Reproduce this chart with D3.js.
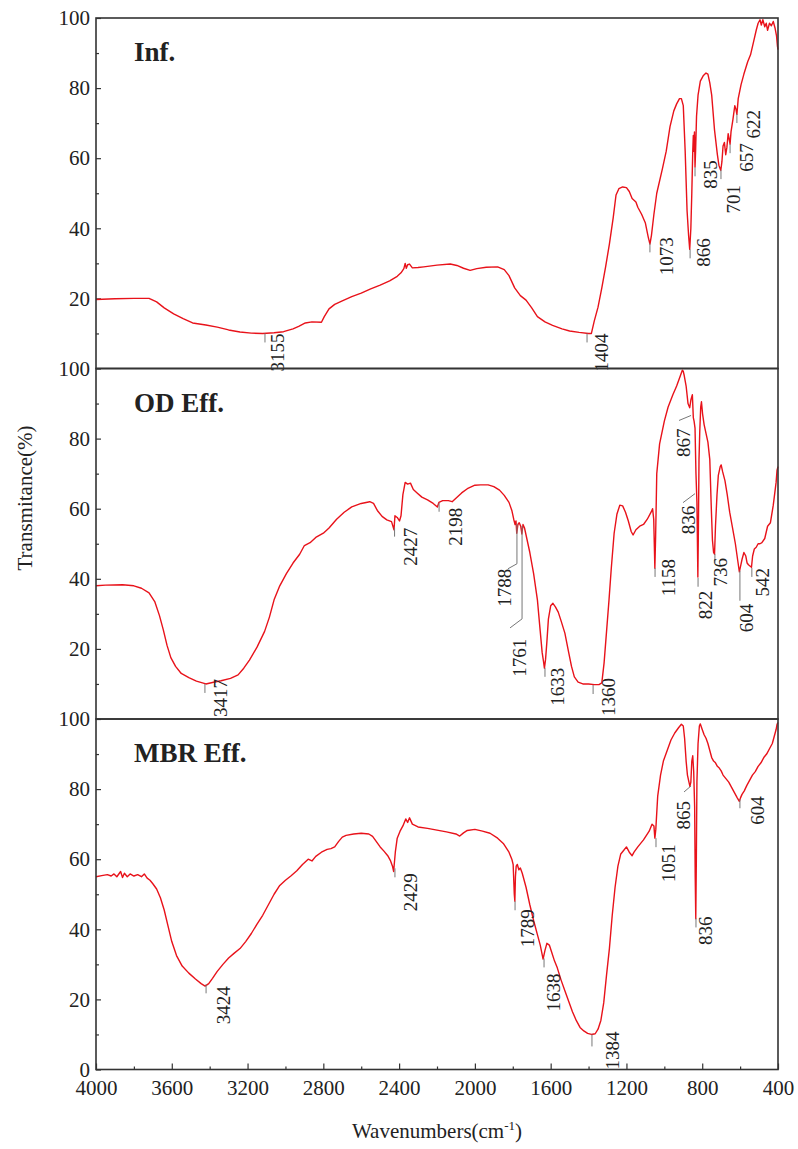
<!DOCTYPE html>
<html>
<head>
<meta charset="utf-8">
<script src="https://cdn.jsdelivr.net/npm/d3@7"></script>
<style>
  body { margin: 0; background: #fff; }
  text { font-family: "Liberation Serif", "DejaVu Serif", serif; fill: #222; }
</style>
</head>
<body>
<div id="chart"></div>
<script>
// ---- data ----
const panelNames = ["Inf.", "OD Eff.", "MBR Eff."];
const xMajorTicks = [4000, 3600, 3200, 2800, 2400, 2000, 1600, 1200, 800, 400];
const xMinorTicks = [3800, 3400, 3000, 2600, 2200, 1800, 1400, 1000, 600];
const yMajorTicks = [20, 40, 60, 80, 100];
const yMinorTicks = [10, 30, 50, 70, 90];

// [wavenumber, transmittance %]
const infSpectrum = [
  [4000, 19.7], [3900, 19.9], [3800, 20.0], [3720, 20.0], [3680, 19.0], [3640, 17.3], [3590, 15.6],
  [3540, 14.2], [3490, 13.0], [3420, 12.4], [3360, 11.8], [3300, 11.0], [3240, 10.4], [3180, 10.1],
  [3120, 10.0], [3060, 10.2], [3010, 10.5], [2960, 11.3], [2930, 12.0], [2895, 13.0], [2860, 13.3],
  [2810, 13.2], [2795, 14.8], [2770, 17.0], [2740, 18.3], [2700, 19.3], [2650, 20.5], [2600, 21.5],
  [2550, 22.7], [2500, 23.8], [2450, 25.0], [2410, 26.3], [2390, 27.3], [2375, 28.5], [2368, 30.0],
  [2362, 28.6], [2355, 29.6], [2345, 29.8], [2330, 28.7], [2300, 28.8], [2270, 29.0], [2200, 29.5],
  [2130, 29.8], [2095, 29.4], [2060, 28.6], [2025, 28.0], [1990, 28.5], [1940, 28.9], [1880, 29.0],
  [1845, 28.2], [1820, 26.5], [1790, 23.0], [1760, 20.8], [1730, 19.5], [1700, 17.3], [1670, 14.8],
  [1630, 13.3], [1590, 12.3], [1540, 11.3], [1500, 10.7], [1450, 10.3], [1400, 10.0], [1385, 10.0],
  [1370, 13.5], [1350, 17.5], [1330, 23.0], [1310, 29.0], [1290, 35.5], [1270, 43.0], [1255, 49.5],
  [1240, 51.3], [1220, 51.8], [1200, 51.6], [1185, 50.5], [1170, 48.5], [1160, 48.0], [1150, 47.5],
  [1140, 46.0], [1120, 44.0], [1100, 41.5], [1085, 37.5], [1076, 35.5], [1068, 38.0], [1055, 44.0],
  [1040, 50.0], [1010, 57.0], [990, 62.0], [970, 69.0], [950, 73.5], [935, 75.5], [920, 77.0],
  [910, 77.0], [900, 75.0], [890, 62.0], [880, 45.0], [872, 38.0], [866, 34.0], [860, 40.0],
  [855, 50.0], [850, 62.0], [847, 66.5], [844, 62.0], [841, 67.5], [838, 57.5], [835, 62.0],
  [830, 72.0], [822, 78.0], [810, 82.0], [795, 83.5], [780, 84.3], [770, 84.0], [760, 81.5],
  [750, 78.0], [735, 68.0], [720, 61.0], [712, 58.0], [702, 56.5], [696, 59.0], [690, 63.5],
  [683, 64.5], [676, 61.0], [670, 63.0], [663, 67.0], [658, 65.5], [653, 64.0], [648, 67.5],
  [638, 71.0], [628, 75.0], [622, 74.0], [617, 72.5], [610, 77.0], [595, 81.0], [580, 84.0],
  [560, 87.5], [545, 89.5], [530, 93.0], [515, 96.5], [505, 98.5], [495, 99.5], [488, 98.0],
  [480, 99.5], [470, 97.5], [462, 98.5], [455, 96.5], [445, 98.5], [435, 97.8], [425, 99.0],
  [415, 97.0], [408, 95.0], [403, 92.0], [400, 91.0]
];

const odSpectrum = [
  [4000, 38.0], [3950, 38.2], [3860, 38.3], [3800, 38.0], [3760, 37.3], [3720, 36.0], [3690, 33.5],
  [3665, 29.5], [3645, 25.5], [3625, 21.0], [3605, 17.5], [3580, 15.0], [3550, 13.0], [3510, 11.8],
  [3470, 10.8], [3420, 10.0], [3380, 10.5], [3340, 10.9], [3290, 11.6], [3250, 12.6], [3220, 14.5],
  [3190, 16.8], [3150, 20.5], [3110, 25.0], [3085, 29.0], [3060, 34.0], [3030, 38.0], [2995, 41.5],
  [2960, 44.5], [2925, 47.0], [2900, 49.5], [2870, 50.3], [2840, 51.8], [2800, 53.0], [2770, 54.5],
  [2730, 57.0], [2690, 59.0], [2650, 60.5], [2600, 61.5], [2555, 62.0], [2535, 61.5], [2515, 59.5],
  [2490, 57.8], [2465, 56.8], [2440, 56.3], [2427, 54.0], [2422, 58.0], [2410, 57.5], [2398, 56.5],
  [2390, 58.0], [2380, 64.0], [2368, 67.5], [2355, 67.0], [2340, 67.3], [2325, 65.5], [2305, 64.5],
  [2280, 63.3], [2250, 62.5], [2220, 61.5], [2198, 60.5], [2190, 61.8], [2170, 62.3], [2140, 62.3],
  [2120, 62.0], [2100, 63.0], [2070, 64.5], [2040, 65.7], [2000, 66.7], [1970, 66.8], [1930, 66.8],
  [1900, 66.3], [1870, 65.3], [1845, 63.8], [1820, 61.8], [1805, 59.5], [1795, 57.0], [1788, 55.5],
  [1783, 56.5], [1779, 53.0], [1773, 55.5], [1766, 56.0], [1758, 55.0], [1752, 52.8], [1746, 55.5],
  [1738, 54.5], [1728, 52.0], [1710, 47.5], [1690, 41.5], [1670, 34.0], [1655, 25.0], [1645, 19.0],
  [1638, 16.5], [1633, 14.5], [1627, 17.0], [1620, 22.0], [1612, 28.5], [1600, 32.3], [1588, 33.0],
  [1575, 32.0], [1560, 30.5], [1545, 28.0], [1525, 24.5], [1505, 19.0], [1490, 15.0], [1475, 12.0],
  [1455, 10.5], [1430, 10.0], [1400, 10.0], [1370, 9.8], [1345, 9.8], [1330, 10.3], [1318, 16.0],
  [1305, 25.0], [1292, 34.0], [1280, 43.0], [1265, 53.0], [1250, 58.5], [1235, 61.0], [1220, 60.8],
  [1205, 59.0], [1190, 56.5], [1175, 53.5], [1165, 52.5], [1150, 54.0], [1130, 55.0], [1110, 55.5],
  [1090, 57.0], [1070, 59.0], [1062, 60.0], [1056, 57.0], [1050, 43.0], [1046, 52.0], [1040, 70.0],
  [1025, 78.5], [1000, 85.0], [980, 89.0], [955, 92.5], [935, 95.0], [915, 98.0], [905, 99.5],
  [900, 99.2], [895, 98.0], [885, 95.0], [875, 90.0], [866, 88.8], [860, 91.0], [852, 92.5],
  [847, 86.0], [843, 85.0], [838, 83.0], [833, 70.0], [828, 62.0], [823, 40.5], [820, 55.0],
  [817, 74.0], [813, 82.0], [808, 89.0], [804, 90.5], [798, 87.0], [790, 84.0], [780, 81.5],
  [770, 79.0], [760, 74.0], [752, 60.0], [746, 51.0], [740, 47.5], [735, 47.0], [730, 55.0],
  [722, 64.0], [715, 69.5], [705, 72.0], [700, 72.5], [692, 70.5], [680, 68.0], [668, 64.0],
  [655, 59.0], [640, 54.5], [625, 50.0], [612, 45.0], [604, 42.0], [598, 43.5], [590, 45.5],
  [580, 47.5], [570, 46.5], [563, 44.5], [556, 44.0], [545, 43.5], [540, 43.3], [534, 46.5],
  [525, 48.5], [515, 49.0], [505, 50.0], [495, 50.0], [485, 50.3], [470, 51.5], [455, 55.0],
  [440, 56.0], [425, 61.0], [410, 67.5], [405, 71.0], [400, 72.0]
];

const mbrSpectrum = [
  [4000, 55.0], [3970, 55.3], [3940, 55.6], [3920, 55.2], [3905, 55.8], [3890, 55.0], [3870, 56.5],
  [3860, 54.8], [3850, 56.0], [3835, 55.0], [3820, 55.8], [3800, 55.2], [3780, 55.6], [3760, 55.0],
  [3745, 55.8], [3730, 54.6], [3715, 54.0], [3700, 53.0], [3680, 51.5], [3660, 49.0], [3640, 45.5],
  [3620, 41.0], [3600, 36.5], [3575, 32.5], [3545, 29.5], [3510, 27.5], [3475, 25.8], [3445, 24.5],
  [3424, 23.8], [3405, 24.5], [3385, 26.0], [3360, 28.0], [3330, 30.0], [3300, 31.8], [3270, 33.2],
  [3240, 34.5], [3210, 36.5], [3180, 38.8], [3150, 41.5], [3120, 44.0], [3090, 47.0], [3060, 50.0],
  [3030, 52.5], [3000, 54.0], [2970, 55.3], [2940, 56.7], [2910, 58.5], [2880, 60.0], [2860, 59.5],
  [2840, 60.8], [2810, 62.0], [2780, 62.8], [2760, 63.0], [2740, 63.5], [2720, 65.0], [2700, 66.3],
  [2680, 66.8], [2640, 67.2], [2600, 67.4], [2560, 67.2], [2540, 66.5], [2520, 65.0], [2500, 63.5],
  [2480, 62.3], [2460, 61.0], [2445, 59.5], [2435, 58.0], [2429, 56.5], [2420, 62.0], [2410, 66.0],
  [2395, 68.0], [2380, 69.5], [2365, 71.5], [2355, 70.5], [2345, 71.8], [2330, 70.0], [2300, 69.2],
  [2250, 68.8], [2200, 68.3], [2150, 67.8], [2100, 67.2], [2080, 66.6], [2060, 67.5], [2040, 68.2],
  [2000, 68.5], [1960, 68.0], [1920, 67.4], [1880, 66.0], [1850, 64.5], [1820, 62.0], [1805, 60.0],
  [1798, 58.5], [1792, 50.0], [1789, 48.0], [1786, 55.0], [1782, 58.0], [1776, 58.5], [1768, 57.0],
  [1760, 57.5], [1750, 56.0], [1730, 52.0], [1710, 47.0], [1690, 42.5], [1670, 38.5], [1655, 35.5],
  [1640, 31.5], [1630, 34.0], [1620, 36.0], [1607, 35.5], [1595, 33.5], [1580, 31.0], [1565, 29.0],
  [1545, 25.5], [1525, 22.5], [1505, 19.5], [1485, 16.5], [1465, 14.0], [1445, 12.0], [1425, 11.0],
  [1405, 10.3], [1385, 10.0], [1365, 10.2], [1350, 11.5], [1335, 14.0], [1320, 19.0], [1305, 27.0],
  [1290, 34.5], [1275, 44.0], [1260, 52.0], [1245, 58.0], [1230, 61.5], [1215, 62.5], [1200, 63.5],
  [1185, 62.0], [1170, 61.0], [1160, 62.0], [1140, 63.5], [1110, 65.5], [1080, 68.0], [1065, 70.0],
  [1055, 69.5], [1050, 66.0], [1045, 68.5], [1035, 78.0], [1020, 84.0], [1005, 88.0], [985, 91.0],
  [965, 94.0], [945, 96.0], [925, 97.5], [910, 98.5], [900, 98.0], [893, 94.5], [885, 88.0],
  [878, 84.0], [870, 82.0], [865, 80.8], [860, 82.0], [855, 88.0], [850, 89.5], [845, 85.0],
  [840, 75.0], [837, 55.0], [834, 43.0], [831, 60.0], [828, 82.0], [822, 93.0], [815, 98.0],
  [810, 98.6], [800, 97.0], [790, 95.5], [780, 94.5], [770, 93.0], [760, 91.0], [750, 89.0],
  [740, 88.0], [730, 87.5], [720, 86.5], [710, 86.0], [700, 85.2], [690, 84.0], [675, 83.0],
  [660, 82.0], [645, 80.5], [630, 79.0], [615, 77.5], [604, 76.5], [598, 77.5], [590, 78.5],
  [578, 79.5], [565, 81.0], [550, 82.5], [535, 84.0], [520, 85.0], [505, 86.5], [490, 87.5],
  [475, 89.0], [460, 90.0], [445, 91.5], [430, 93.0], [420, 95.0], [410, 97.0], [405, 98.5],
  [400, 99.0]
];

// peak labels: [text, wavenumber of marker, transmittance at marker top]
const infPeaks = [
  ["3155", 3108, 10.0], ["1404", 1408, 10.0], ["1073", 1076, 35.7], ["866", 864, 34.0],
  ["835", 838, 57.4], ["701", 701, 56.6], ["657", 653, 64.0], ["622", 617, 72.6]
];
const odPeaks = [
  ["3417", 3425, 10.0], ["2427", 2424, 54.6], ["2198", 2189, 61.7], ["1788", 1778, 55.7],
  ["1761", 1751, 55.1], ["1633", 1630, 14.6], ["1360", 1376, 9.7], ["1158", 1049, 43.1],
  ["867", 859, 86.6], ["836", 838, 64.3], ["822", 822, 40.3], ["736", 733, 47.1],
  ["604", 601, 42.3], ["542", 538, 43.1]
];
const mbrPeaks = [
  ["3424", 3419, 24.3], ["2429", 2422, 57.4], ["1789", 1788, 48.0], ["1638", 1635, 31.7],
  ["1384", 1382, 10.0], ["1051", 1044, 66.0], ["865", 859, 80.9], ["836", 833, 43.1],
  ["604", 601, 77.1]
];

// label placement (pixels from marker top): text centre dx, text top dy, marker
const labelLayout = {
  "0:3155": { dx: 12, dy: 0 }, "0:1404": { dx: 14, dy: 0 }, "0:1073": { dx: 16, dy: -6 },
  "0:866": { dx: 13, dy: -11 }, "0:835": { dx: 15, dy: -7 }, "0:701": { dx: 12, dy: 15 },
  "0:657": { dx: 16, dy: -1 }, "0:622": { dx: 16, dy: -4 },
  "1:3417": { dx: 15, dy: -5 }, "1:2427": { dx: 16, dy: 0 }, "1:2198": { dx: 16, dy: 5 },
  "1:1788": { dx: -13, dy: 45, leader: [[0, 0], [0, 40], [-9, 45]] },
  "1:1761": { dx: -3, dy: 113, leader: [[0, 0], [0, 93], [-12, 102]] },
  "1:1633": { dx: 12, dy: 0 }, "1:1360": { dx: 15, dy: -7 }, "1:1158": { dx: 13, dy: -9 },
  "1:867": { dx: -8, dy: 13, leader: [[0, 0], [-12, 5]] },
  "1:836": { dx: -7, dy: 12, leader: [[0, 0], [-12, 9]] },
  "1:822": { dx: 7, dy: 13 }, "1:736": { dx: 5, dy: 4 }, "1:604": { dx: 6, dy: 33, len: 30 },
  "1:542": { dx: 10, dy: 0 },
  "2:3424": { dx: 17, dy: 2 }, "2:2429": { dx: 15, dy: 5 }, "2:1789": { dx: 12, dy: 8 },
  "2:1638": { dx: 9, dy: 15 }, "2:1384": { dx: 20, dy: -3, len: 12 }, "2:1051": { dx: 12, dy: 6 },
  "2:865": { dx: -8, dy: 15, leader: [[0, 0], [-7, 6]] }, "2:836": { dx: 9, dy: -2 },
  "2:604": { dx: 17, dy: -3 }
};

const spectra = [infSpectrum, odSpectrum, mbrSpectrum];
const peaks = [infPeaks, odPeaks, mbrPeaks];

// ---- layout ----
const width = 798, height = 1149;
const margin = { top: 18, left: 96, right: 20 };
const plotW = 778 - margin.left;
const panelH = 350.5;

const svg = d3.select("#chart").append("svg")
  .attr("width", width)
  .attr("height", height);

const x = d3.scaleLinear().domain([4000, 400]).range([0, plotW]);
const y = d3.scaleLinear().domain([0, 100]).range([panelH, 0]);

const line = d3.line()
  .x((d) => x(d[0]))
  .y((d) => y(d[1]));

const panels = spectra.map((data, i) => {
  const g = svg.append("g")
    .attr("transform", `translate(${margin.left},${margin.top + i * panelH})`);

  // y ticks, inward
  const yMajor = g.append("g").call(
    d3.axisLeft(y)
      .tickValues(i === 2 ? [0].concat(yMajorTicks) : yMajorTicks)
      .tickSize(-5).tickPadding(6).tickFormat(d3.format("d"))
  );
  const yMinor = g.append("g").call(
    d3.axisLeft(y).tickValues(yMinorTicks).tickSize(-3).tickFormat("")
  );
  [yMajor, yMinor].forEach((a) => {
    a.select(".domain").remove();
    a.selectAll("line").attr("stroke", "#333").attr("stroke-width", 1.2);
  });
  yMajor.selectAll("text")
    .attr("font-family", "Liberation Serif, serif")
    .attr("font-size", 21)
    .attr("fill", "#222");

  // spectrum
  g.append("path")
    .datum(data)
    .attr("fill", "none")
    .attr("stroke", "#e8121a")
    .attr("stroke-width", 1.4)
    .attr("stroke-linejoin", "round")
    .attr("d", line);

  // panel box
  g.append("rect")
    .attr("width", plotW)
    .attr("height", panelH)
    .attr("fill", "none")
    .attr("stroke", "#333")
    .attr("stroke-width", 1.6);

  // panel title
  g.append("text")
    .attr("x", 38)
    .attr("y", 43)
    .attr("font-size", 27)
    .attr("font-weight", "bold")
    .attr("fill", "#111")
    .text(panelNames[i]);

  return g;
});

// peak markers and labels, drawn last so they sit over the panel borders
panels.forEach((g, i) => {
  peaks[i].forEach(([label, at, t]) => {
    const lay = labelLayout[`${i}:${label}`] || { dx: 14, dy: 0 };
    const x0 = x(at), y0 = y(t);
    const pts = lay.leader || [[0, 0], [0, lay.len || 9]];
    g.append("path")
      .attr("d", d3.line()(pts.map((p) => [x0 + p[0], y0 + p[1]])))
      .attr("fill", "none")
      .attr("stroke", "#777")
      .attr("stroke-width", 1);
    g.append("text")
      .attr("transform", `translate(${x0 + lay.dx},${y0 + lay.dy}) rotate(-90)`)
      .attr("text-anchor", "end")
      .attr("dy", "0.35em")
      .attr("font-size", 19)
      .text(label);
  });
});

// x axis on the bottom panel, ticks inward
const bottom = panels[2];
const xMajor = bottom.append("g")
  .attr("transform", `translate(0,${panelH})`)
  .call(d3.axisBottom(x).tickValues(xMajorTicks).tickSize(-6).tickPadding(11).tickFormat(d3.format("d")));
const xMinor = bottom.append("g")
  .attr("transform", `translate(0,${panelH})`)
  .call(d3.axisBottom(x).tickValues(xMinorTicks).tickSize(-3).tickFormat(""));
[xMajor, xMinor].forEach((a) => {
  a.select(".domain").remove();
  a.selectAll("line").attr("stroke", "#333").attr("stroke-width", 1.2);
});
xMajor.selectAll("text")
  .attr("font-family", "Liberation Serif, serif")
  .attr("font-size", 21)
  .attr("fill", "#222");

// axis titles
svg.append("text")
  .attr("transform", "translate(25,498) rotate(-90)")
  .attr("text-anchor", "middle")
  .attr("dy", "0.35em")
  .attr("font-size", 21)
  .text("Transmitance(%)");

const xTitle = svg.append("text")
  .attr("x", margin.left + plotW / 2)
  .attr("y", 1138)
  .attr("text-anchor", "middle")
  .attr("font-size", 21);
xTitle.append("tspan").text("Wavenumbers(cm");
xTitle.append("tspan").attr("dy", -8).attr("font-size", 13).text("-1");
xTitle.append("tspan").attr("dy", 8).text(")");
</script>
</body>
</html>
